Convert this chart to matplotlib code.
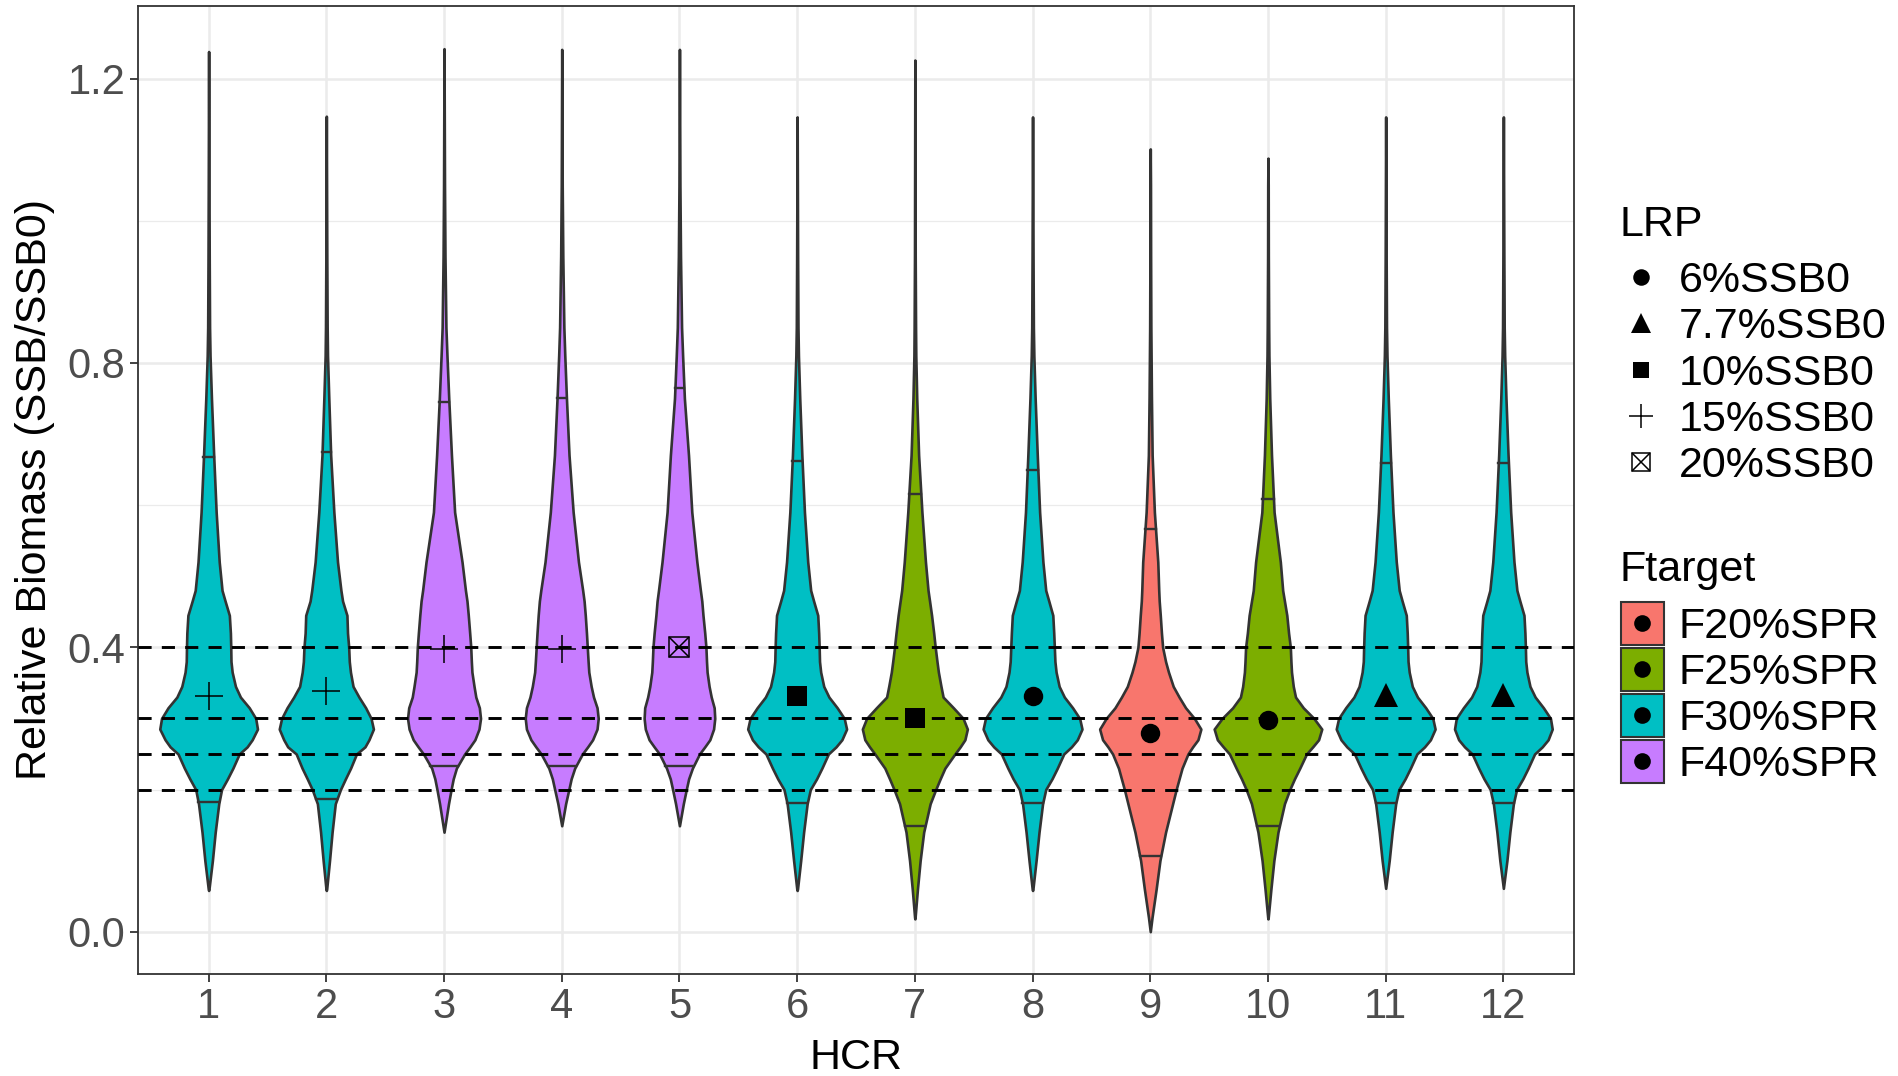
import numpy as np
import matplotlib

matplotlib.use("Agg")
import matplotlib.pyplot as plt
from matplotlib.patches import Rectangle

plt.rcParams["font.family"] = ["Liberation Sans", "DejaVu Sans"]

# ---- data ------------------------------------------------------------------
hcr = list(range(1, 13))
ftarget = ["F30%SPR", "F30%SPR", "F40%SPR", "F40%SPR", "F40%SPR", "F30%SPR",
           "F25%SPR", "F30%SPR", "F20%SPR", "F25%SPR", "F30%SPR", "F30%SPR"]
lrp = ["15%SSB0", "15%SSB0", "15%SSB0", "15%SSB0", "20%SSB0", "10%SSB0",
       "10%SSB0", "6%SSB0", "6%SSB0", "6%SSB0", "7.7%SSB0", "7.7%SSB0"]
point_y = [0.332, 0.338, 0.397, 0.397, 0.400, 0.331, 0.301, 0.331, 0.280, 0.298, 0.333, 0.333]
y_min = [0.058, 0.058, 0.140, 0.149, 0.149, 0.058, 0.018, 0.058, 0.000, 0.018, 0.061, 0.061]
y_max = [1.238, 1.147, 1.242, 1.241, 1.241, 1.146, 1.226, 1.146, 1.101, 1.088, 1.146, 1.146]
q05 = [0.182, 0.187, 0.233, 0.233, 0.233, 0.181, 0.149, 0.181, 0.107, 0.148, 0.181, 0.181]
q95 = [0.667, 0.675, 0.745, 0.750, 0.765, 0.662, 0.616, 0.650, 0.566, 0.608, 0.659, 0.659]
ref_lines = [0.4, 0.3, 0.25, 0.2]

lrp_levels = ["6%SSB0", "7.7%SSB0", "10%SSB0", "15%SSB0", "20%SSB0"]
ftarget_levels = ["F20%SPR", "F25%SPR", "F30%SPR", "F40%SPR"]
ftarget_colors = ["#F8766D", "#7CAE00", "#00BFC4", "#C77CFF"]

# violin half-widths (x units) at these biomass levels
levels = [0.02, 0.06, 0.10, 0.14, 0.18, 0.20, 0.215, 0.23, 0.25, 0.26, 0.27, 0.285,
          0.30, 0.315, 0.33, 0.345, 0.365, 0.38, 0.40, 0.42, 0.445, 0.465, 0.48,
          0.52, 0.59, 0.67, 0.75, 0.81, 0.85, 0.95, 1.05]
w_hcr1 = [0, 0.003, 0.032, 0.056, 0.086, 0.11, 0.16, 0.206, 0.26, 0.327, 0.37, 0.415,
          0.40, 0.345, 0.27, 0.228, 0.20, 0.19, 0.188, 0.185, 0.176, 0.14, 0.114,
          0.09, 0.064, 0.043, 0.024, 0.012, 0.008, 0.005, 0.003]
w_hcr2 = [0, 0.003, 0.027, 0.049, 0.076, 0.12, 0.162, 0.206, 0.256, 0.328, 0.362, 0.40,
          0.38, 0.334, 0.277, 0.227, 0.205, 0.195, 0.19, 0.18, 0.175, 0.138, 0.124,
          0.095, 0.064, 0.037, 0.021, 0.01, 0.007, 0.004, 0.002]
w_hcr3 = [0, 0, 0, 0, 0.038, 0.06, 0.078, 0.105, 0.175, 0.22, 0.262, 0.297,
          0.31, 0.30, 0.27, 0.255, 0.237, 0.232, 0.227, 0.218, 0.206, 0.195, 0.182,
          0.153, 0.09, 0.063, 0.04, 0.025, 0.016, 0.008, 0.004]
w_hcr4 = [0, 0, 0, 0, 0.033, 0.06, 0.08, 0.11, 0.175, 0.22, 0.262, 0.30,
          0.31, 0.30, 0.27, 0.25, 0.23, 0.224, 0.217, 0.21, 0.20, 0.19, 0.178,
          0.142, 0.097, 0.062, 0.04, 0.026, 0.018, 0.009, 0.004]
w_hcr5 = [0, 0, 0, 0, 0.033, 0.058, 0.078, 0.11, 0.17, 0.215, 0.258, 0.29,
          0.30, 0.295, 0.27, 0.252, 0.235, 0.23, 0.225, 0.215, 0.20, 0.19, 0.178,
          0.148, 0.105, 0.077, 0.042, 0.027, 0.018, 0.009, 0.004]
w_hcr6 = [0, 0.003, 0.03, 0.055, 0.085, 0.112, 0.165, 0.21, 0.265, 0.33, 0.38, 0.42,
          0.40, 0.34, 0.27, 0.226, 0.20, 0.19, 0.187, 0.183, 0.175, 0.14, 0.115,
          0.09, 0.062, 0.04, 0.022, 0.011, 0.007, 0.004, 0.002]
w_hcr7 = [0.002, 0.022, 0.045, 0.075, 0.13, 0.177, 0.215, 0.255, 0.34, 0.385, 0.425, 0.446,
          0.41, 0.327, 0.24, 0.222, 0.20, 0.188, 0.173, 0.16, 0.142, 0.125, 0.112,
          0.09, 0.06, 0.032, 0.016, 0.008, 0.006, 0.003, 0.002]
w_hcr8 = [0, 0.003, 0.03, 0.055, 0.085, 0.112, 0.165, 0.21, 0.265, 0.33, 0.38, 0.42,
          0.40, 0.34, 0.27, 0.226, 0.20, 0.19, 0.185, 0.18, 0.172, 0.138, 0.112,
          0.088, 0.06, 0.04, 0.022, 0.011, 0.007, 0.004, 0.002]
w_hcr9 = [0.015, 0.05, 0.082, 0.13, 0.19, 0.22, 0.245, 0.27, 0.32, 0.36, 0.405, 0.43,
          0.375, 0.30, 0.245, 0.195, 0.155, 0.13, 0.105, 0.095, 0.085, 0.076, 0.072,
          0.064, 0.035, 0.016, 0.01, 0.007, 0.005, 0.003, 0.002]
w_hcr10 = [0.002, 0.025, 0.05, 0.085, 0.14, 0.185, 0.225, 0.27, 0.327, 0.38, 0.43, 0.457,
           0.39, 0.30, 0.234, 0.215, 0.20, 0.195, 0.19, 0.175, 0.16, 0.14, 0.125,
           0.105, 0.052, 0.03, 0.015, 0.008, 0.006, 0.003, 0.002]
w_hcr11 = [0, 0.002, 0.03, 0.055, 0.085, 0.112, 0.165, 0.21, 0.265, 0.33, 0.38, 0.42,
           0.40, 0.34, 0.27, 0.226, 0.20, 0.19, 0.187, 0.183, 0.175, 0.14, 0.115,
           0.09, 0.062, 0.04, 0.022, 0.011, 0.007, 0.004, 0.002]
w_hcr12 = [0, 0.002, 0.03, 0.055, 0.085, 0.112, 0.165, 0.21, 0.265, 0.33, 0.38, 0.415,
           0.40, 0.34, 0.27, 0.226, 0.20, 0.19, 0.187, 0.183, 0.175, 0.14, 0.115,
           0.09, 0.062, 0.04, 0.022, 0.011, 0.007, 0.004, 0.002]
widths = [w_hcr1, w_hcr2, w_hcr3, w_hcr4, w_hcr5, w_hcr6,
          w_hcr7, w_hcr8, w_hcr9, w_hcr10, w_hcr11, w_hcr12]

OUTLINE = "#333333"


def draw_marker(axis, x, y, kind, size=1.0, zorder=6):
    """Draw one LRP symbol (ggplot shapes 16, 17, 15, 3, 7)."""
    if kind == "6%SSB0":
        axis.plot(x, y, marker="o", color="black", ms=14 * size, mew=0, zorder=zorder)
    elif kind == "7.7%SSB0":
        axis.plot(x, y, marker="^", color="black", ms=17 * size, mew=0, zorder=zorder)
    elif kind == "10%SSB0":
        axis.plot(x, y, marker="s", color="black", ms=14 * size, mew=0, zorder=zorder)
    elif kind == "15%SSB0":
        axis.plot(x, y, marker="+", color="black", ms=20 * size, mew=1.1, zorder=zorder)
    else:
        axis.plot(x, y, marker="s", mfc="none", mec="black", ms=15 * size, mew=1.1, zorder=zorder)
        axis.plot(x, y, marker="x", color="black", ms=15 * size, mew=1.1, zorder=zorder)


fig = plt.figure(figsize=(18.98, 10.76), dpi=100)
ax = fig.add_axes([138 / 1898, 1 - 974 / 1076, (1574 - 138) / 1898, (974 - 6) / 1076])

for i, x in enumerate(hcr):
    keep = [(lv, w) for lv, w in zip(levels, widths[i]) if y_min[i] < lv < y_max[i]]
    ys = np.array([y_min[i]] + [lv for lv, _ in keep] + [y_max[i]])
    ws = np.array([0.0] + [w for _, w in keep] + [0.0])
    color = ftarget_colors[ftarget_levels.index(ftarget[i])]
    ax.fill_betweenx(ys, x - ws, x + ws, facecolor=color, edgecolor=OUTLINE,
                     linewidth=1.9, zorder=3)
    for q in (q05[i], q95[i]):
        half = np.interp(q, ys, ws)
        ax.plot([x - half, x + half], [q, q], color=OUTLINE, lw=1.7, zorder=4)

for level in ref_lines:
    ax.axhline(level, color="black", lw=2.1, linestyle=(0, (4.5, 3.5)), zorder=5)

for x, y, kind in zip(hcr, point_y, lrp):
    draw_marker(ax, x, y, kind)

ax.set_xlim(0.4, 12.6)
ax.set_ylim(-0.0595, 1.302)
ax.set_xticks(hcr)
ax.set_yticks([0.0, 0.4, 0.8, 1.2])
ax.set_yticklabels(["0.0", "0.4", "0.8", "1.2"])
ax.set_yticks([0.2, 0.6, 1.0], minor=True)
ax.grid(True, which="major", color="#EBEBEB", lw=1.8, zorder=0)
ax.grid(True, which="minor", axis="y", color="#EBEBEB", lw=0.9, zorder=0)
ax.set_axisbelow(True)
ax.tick_params(axis="both", which="major", length=6, width=1.3, color=OUTLINE,
               labelsize=30, labelcolor="#4D4D4D", pad=3)
ax.tick_params(axis="y", which="minor", length=0)
for spine in ax.spines.values():
    spine.set_color(OUTLINE)
    spine.set_linewidth(1.3)

ax.set_xlabel("HCR", fontsize=31)
ax.set_ylabel("Relative Biomass (SSB/SSB0)", fontsize=31)
ax.xaxis.set_label_coords(0.5, -0.066)
ax.yaxis.set_label_coords(-0.058, 0.5)

# ---- legends, laid out in pixel coordinates --------------------------------
lg = fig.add_axes([0, 0, 1, 1])
lg.set_xlim(0, 1898)
lg.set_ylim(1076, 0)
lg.axis("off")

lg.text(1620, 236, "LRP", fontsize=31, va="baseline", ha="left")
for row, name in enumerate(lrp_levels):
    yc = 277 + row * 46.3
    draw_marker(lg, 1641, yc, name, size=0.85)
    lg.text(1679, yc + 15, name, fontsize=31, va="baseline", ha="left")

lg.text(1620, 581, "Ftarget", fontsize=31, va="baseline", ha="left")
for row, (name, color) in enumerate(zip(ftarget_levels, ftarget_colors)):
    yc = 623 + row * 46
    lg.add_patch(Rectangle((1621, yc - 21.5), 43, 43, facecolor=color,
                           edgecolor=OUTLINE, lw=1.5))
    lg.plot(1642.5, yc, marker="o", color="black", ms=12, mew=0)
    lg.text(1679, yc + 15, name, fontsize=31, va="baseline", ha="left")

fig.savefig("out.png", dpi=100)
